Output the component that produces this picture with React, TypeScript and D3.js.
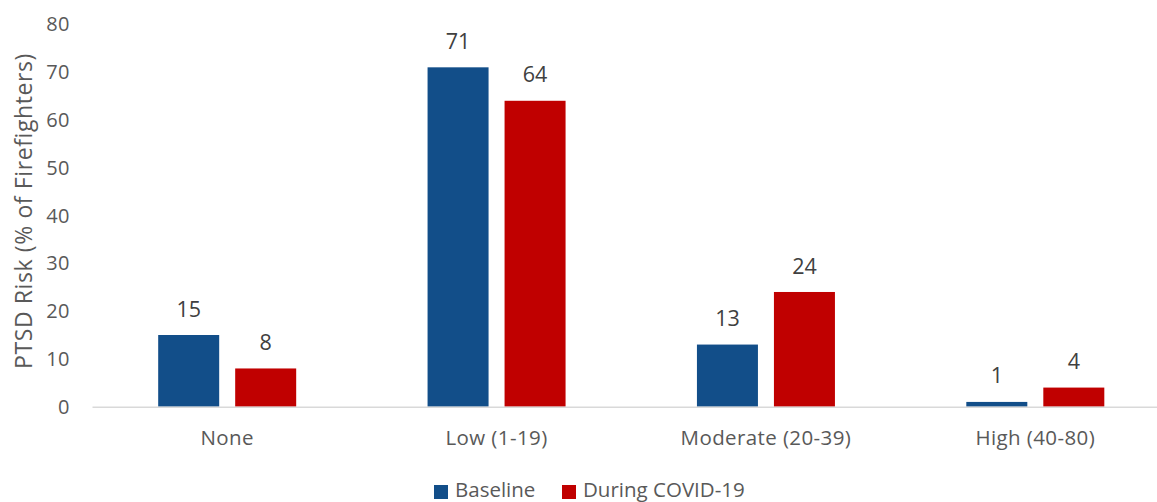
import React from "react";
import * as d3 from "d3";

const categories = ["None", "Low (1-19)", "Moderate (20-39)", "High (40-80)"];
const baseline = [15, 71, 13, 1];
const duringCovid = [8, 64, 24, 4];
const seriesNames = ["Baseline", "During COVID-19"];
const yTicks = [0, 10, 20, 30, 40, 50, 60, 70, 80];

const W = 1157;
const H = 502;
const left = 92.5;
const right = 1170;
const top = 24.3;
const bottom = 406.7;
const colors = ["#124E89", "#C00000"];
const font = "'Open Sans', sans-serif";

export default function App() {
  const x = d3.scaleBand<string>().domain(categories).range([left, right]).paddingInner(0).paddingOuter(0);
  const y = d3.scaleLinear().domain([0, 80]).range([bottom, top]);
  const barW = 61;
  const gap = 16;
  const series = [baseline, duringCovid];
  return (
    <svg width={W} height={H} style={{ position: "absolute", left: 0, top: 0, background: "#fff", fontFamily: font }}>
      {yTicks.map((t) => (
        <text key={t} x={70} y={y(t)} dy="0.35em" textAnchor="end" fontSize={20} letterSpacing={0.5} fill="#595959">
          {t}
        </text>
      ))}
      <text
        transform={`translate(24,${211}) rotate(-90)`}
        textAnchor="middle"
        dy="0.35em"
        fontSize={23}
        letterSpacing={0.6}
        fill="#595959"
      >
        PTSD Risk (% of Firefighters)
      </text>
      {categories.map((c, i) => {
        const cx = x(c)! + x.bandwidth() / 2;
        return (
          <g key={c}>
            {series.map((s, j) => {
              const bx = cx - (barW * 2 + gap) / 2 + j * (barW + gap);
              return (
                <g key={j}>
                  <rect x={bx} y={y(s[i])} width={barW} height={y(0) - y(s[i])} fill={colors[j]} />
                  <text x={bx + barW / 2} y={y(s[i]) - 26} dy="0.35em" textAnchor="middle" fontSize={21.5} fill="#404040">
                    {s[i]}
                  </text>
                </g>
              );
            })}
            <text x={cx} y={438} dy="0.35em" textAnchor="middle" fontSize={20.5} letterSpacing={0.4} fill="#595959">
              {c}
            </text>
          </g>
        );
      })}
      <line x1={left} x2={right} y1={bottom + 0.5} y2={bottom + 0.5} stroke="#D9D9D9" strokeWidth={1.5} />
      <g>
        <rect x={434} y={485} width={14} height={14} fill={colors[0]} />
        <text x={455} y={490} dy="0.35em" fontSize={20.5} fill="#595959">{seriesNames[0]}</text>
        <rect x={562} y={485} width={14} height={14} fill={colors[1]} />
        <text x={583} y={490} dy="0.35em" fontSize={20.5} fill="#595959">{seriesNames[1]}</text>
      </g>
    </svg>
  );
}
